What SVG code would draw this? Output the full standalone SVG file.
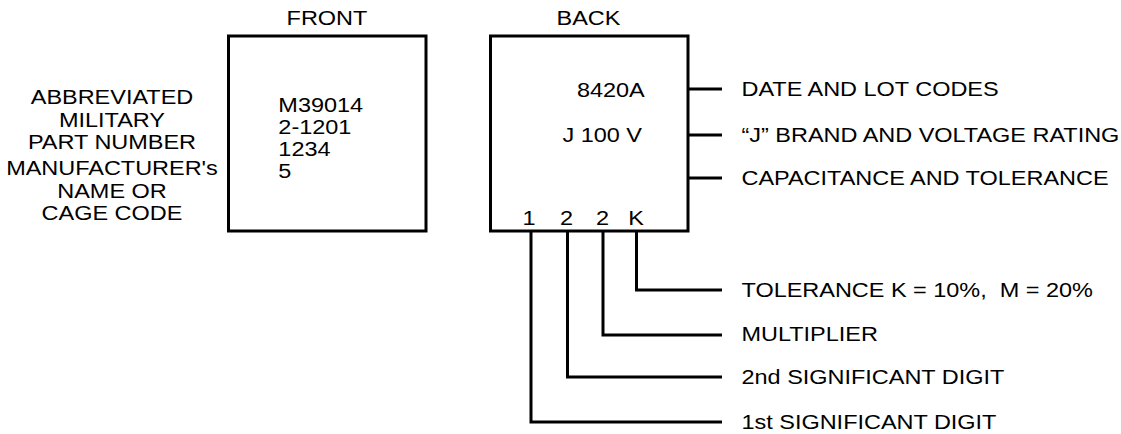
<svg xmlns="http://www.w3.org/2000/svg" width="1121" height="434" viewBox="0 0 1121 434">
<style>
  .t { font-family: "Liberation Sans", Arial, sans-serif; font-size: 20.5px; fill: #000; }
  .m { text-anchor: middle; }
  .box { fill: #fff; stroke: #000; stroke-width: 3; }
  .ln { fill: none; stroke: #000; stroke-width: 3; stroke-linejoin: miter; }
</style>
<rect width="1121" height="434" fill="#fff"/>
<g id="left-labels">
  <g transform="scale(1.145 1)">
    <text class="t m" x="97.82" y="104">ABBREVIATED</text>
    <text class="t m" x="97.82" y="127">MILITARY</text>
    <text class="t m" x="97.82" y="149">PART NUMBER</text>
    <text class="t m" x="97.82" y="175">MANUFACTURER's</text>
    <text class="t m" x="97.82" y="198">NAME OR</text>
    <text class="t m" x="97.82" y="220">CAGE CODE</text>
  </g>
</g>
<g id="front">
  <rect class="box" x="228.5" y="36" width="197.5" height="195"/>
  <g transform="scale(1.145 1)">
    <text class="t m" x="285.6" y="25">FRONT</text>
    <text class="t" x="243.1" y="112">M39014</text>
    <text class="t" x="243.1" y="134">2-1201</text>
    <text class="t" x="243.1" y="156">1234</text>
    <text class="t" x="243.1" y="178">5</text>
  </g>
</g>
<g id="back">
  <rect class="box" x="490.5" y="36" width="197.5" height="195"/>
  <g transform="scale(1.145 1)">
    <text class="t m" x="514" y="25">BACK</text>
    <text class="t" x="503.9" y="97">8420A</text>
    <text class="t" x="491.2" y="142">J 100 V</text>
    <text class="t m" x="462" y="225">1</text>
    <text class="t m" x="494.8" y="225">2</text>
    <text class="t m" x="526.2" y="225">2</text>
    <text class="t m" x="555.5" y="225">K</text>
  </g>
</g>
<g id="connectors">
  <path class="ln" d="M688 89H722M688 135H722M688 178H722"/>
  <path class="ln" d="M636.5 231V290H722"/>
  <path class="ln" d="M603 231V335H722"/>
  <path class="ln" d="M567.5 231V377H722"/>
  <path class="ln" d="M531 231V422H722"/>
</g>
<g id="right-labels">
  <g transform="scale(1.145 1)">
    <text class="t" x="647.6" y="96">DATE AND LOT CODES</text>
    <text class="t" x="647.6" y="142">“J” BRAND AND VOLTAGE RATING</text>
    <text class="t" x="647.6" y="185">CAPACITANCE AND TOLERANCE</text>
    <text class="t" x="647.6" y="297" xml:space="preserve">TOLERANCE K = 10%,  M = 20%</text>
    <text class="t" x="647.6" y="341">MULTIPLIER</text>
    <text class="t" x="647.6" y="384">2nd SIGNIFICANT DIGIT</text>
    <text class="t" x="647.6" y="429">1st SIGNIFICANT DIGIT</text>
  </g>
</g>
</svg>
